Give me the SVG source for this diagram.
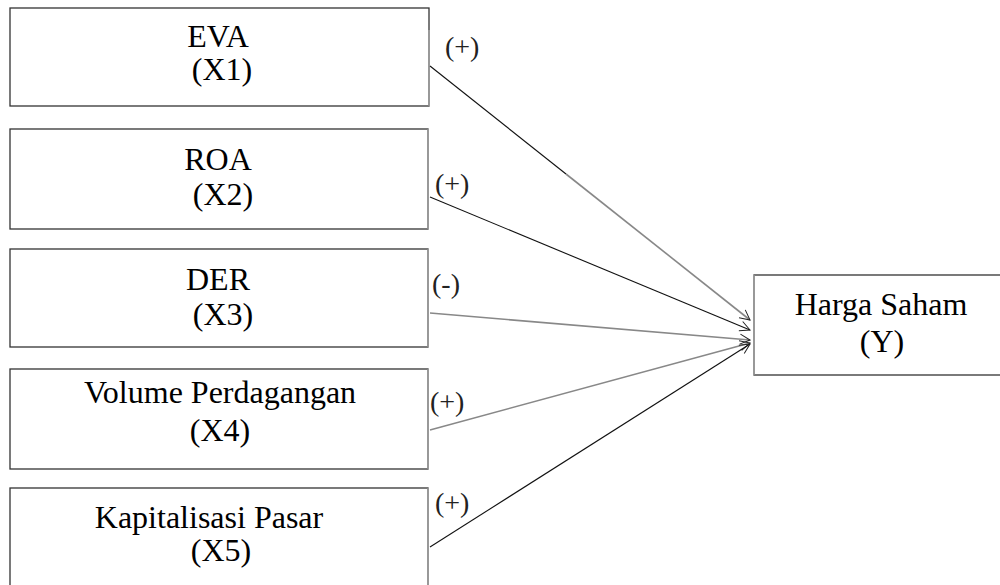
<svg xmlns="http://www.w3.org/2000/svg" width="1000" height="585" viewBox="0 0 1000 585">
<style>
.box{fill:#fff;stroke:#333;stroke-width:1.3}
.edge{stroke:#aaa;stroke-width:1.3;fill:none}
text{font-family:'Liberation Serif',Tinos,'Times New Roman',Times,serif}
.t{font-size:32px;fill:#000;text-anchor:middle}
.lbl{font-size:28px;fill:#222}
.ln{stroke:#111;stroke-width:1.1;fill:none}
.lg{stroke:#888;stroke-width:1.6;fill:none}
</style>
<defs>
<marker id="ah" viewBox="0 0 12 12" refX="11" refY="6" markerWidth="12" markerHeight="12" markerUnits="userSpaceOnUse" orient="auto">
<path d="M1,1 L11,6 L1,11" fill="none" stroke="#222" stroke-width="1"/>
</marker>
</defs>
<rect width="1000" height="585" fill="#fff"/>
<g id="node-x1">
<rect class="box" x="10" y="8" width="419" height="98"/>
<line class="edge" x1="429" y1="30" x2="429" y2="106"/>
<text class="t" x="218" y="47">EVA</text>
<text class="t" x="222" y="80">(X1)</text>
</g>
<g id="node-x2">
<rect class="box" x="10" y="129" width="418" height="100"/>
<line class="edge" x1="428" y1="129" x2="428" y2="229"/>
<text class="t" x="218" y="170">ROA</text>
<text class="t" x="223" y="205">(X2)</text>
</g>
<g id="node-x3">
<rect class="box" x="10" y="249" width="418" height="98"/>
<line class="edge" x1="428" y1="249" x2="428" y2="347"/>
<text class="t" x="218" y="290">DER</text>
<text class="t" x="223" y="325">(X3)</text>
</g>
<g id="node-x4">
<rect class="box" x="10" y="369" width="418" height="100"/>
<line class="edge" x1="428" y1="369" x2="428" y2="469"/>
<text class="t" x="220" y="403">Volume Perdagangan</text>
<text class="t" x="220" y="441">(X4)</text>
</g>
<g id="node-x5">
<rect class="box" x="10" y="488" width="418" height="110"/>
<line class="edge" x1="428" y1="488" x2="428" y2="585"/>
<text class="t" x="209" y="528">Kapitalisasi Pasar</text>
<text class="t" x="221" y="561">(X5)</text>
</g>
<g id="node-y">
<rect class="box" x="754" y="275" width="260" height="100"/>
<line class="edge" x1="754" y1="275" x2="754" y2="375"/>
<text class="t" x="881" y="315">Harga Saham</text>
<text class="t" x="882" y="352">(Y)</text>
</g>
<g id="connectors">
<line class="ln" x1="430" y1="66" x2="566" y2="174"/>
<line class="lg" x1="566" y1="174" x2="750" y2="320" marker-end="url(#ah)"/>
<line class="ln" x1="430" y1="197" x2="750" y2="330" marker-end="url(#ah)"/>
<line class="lg" x1="430" y1="313" x2="750" y2="340" marker-end="url(#ah)"/>
<line class="lg" x1="430" y1="430" x2="750" y2="343" marker-end="url(#ah)"/>
<line class="ln" x1="430" y1="547" x2="750" y2="344" marker-end="url(#ah)"/>
</g>
<g id="labels">
<text class="lbl" x="445" y="56">(+)</text>
<text class="lbl" x="435" y="193">(+)</text>
<text class="lbl" x="432" y="293">(-)</text>
<text class="lbl" x="430" y="411">(+)</text>
<text class="lbl" x="435" y="512">(+)</text>
</g>
</svg>
